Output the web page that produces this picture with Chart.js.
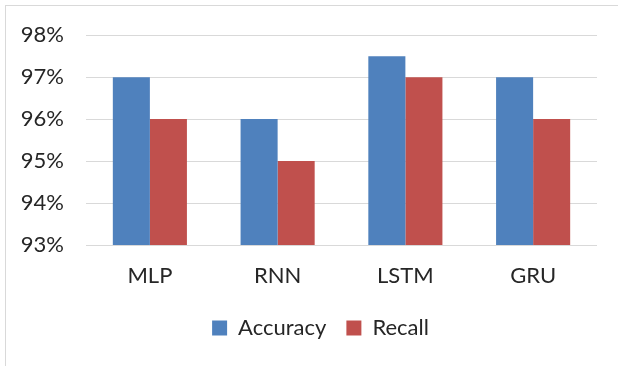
<!DOCTYPE html>
<html>
<head>
<meta charset="utf-8">
<script src="https://cdn.jsdelivr.net/npm/chart.js@4"></script>
<style>
  body { margin: 0; background: #fff; }
  #wrap { position: relative; width: 618px; height: 366px; }
  #frame { position: absolute; left: 5px; top: 5px; width: 620px; height: 400px; border: 1px solid #d9d9d9; box-sizing: border-box; }
  canvas { position: absolute; left: 0; top: 0; }
</style>
</head>
<body>
<div id="wrap">
  <div id="frame"></div>
  <canvas id="bar-chart" width="618" height="366"></canvas>
</div>
<script>
var models = ["MLP", "RNN", "LSTM", "GRU"];
var accuracy = [97, 96, 97.5, 97];
var recall = [96, 95, 97, 96];
var yTicks = [93, 94, 95, 96, 97, 98];

var font = "Lato, 'Open Sans', sans-serif";

// nudge the legend a bit to the right, like in the original
var legendShift = {
    id: 'legendShift',
    afterLayout: function(chart) {
        chart.legend.left += 22;
        chart.legend.right += 22;
    }
};

new Chart(document.getElementById("bar-chart"), {
    type: 'bar',
    data: {
        labels: models,
        datasets: [
            {
                label: "Accuracy",
                data: accuracy,
                backgroundColor: "#4F81BD"
            },
            {
                label: "Recall",
                data: recall,
                backgroundColor: "#C0504D"
            }
        ]
    },
    plugins: [legendShift],
    options: {
        responsive: false,
        animation: false,
        categoryPercentage: 0.58,
        barPercentage: 1,
        layout: { padding: { top: 35, right: 21, left: 0, bottom: 17 } },
        scales: {
            y: {
                min: yTicks[0],
                max: yTicks[yTicks.length - 1],
                afterFit: function(s) { s.width = 86; },
                afterBuildTicks: function(s) { s.ticks = yTicks.map(function(v) { return { value: v }; }); },
                border: { display: false },
                grid: { color: "#d9d9d9", drawTicks: false },
                ticks: {
                    padding: 22,
                    color: "#262626",
                    font: { family: font, size: 22 },
                    callback: function(v) { return v + "%"; }
                }
            },
            x: {
                afterFit: function(s) { s.height = 52; },
                border: { display: false },
                grid: { display: false, drawTicks: false },
                ticks: {
                    padding: 18,
                    color: "#262626",
                    font: { family: font, size: 22 }
                }
            }
        },
        plugins: {
            legend: {
                position: 'bottom',
                labels: {
                    boxWidth: 15,
                    boxHeight: 15,
                    padding: 20,
                    color: "#262626",
                    font: { family: font, size: 22 }
                }
            },
            tooltip: { enabled: false }
        }
    }
});
</script>
</body>
</html>
